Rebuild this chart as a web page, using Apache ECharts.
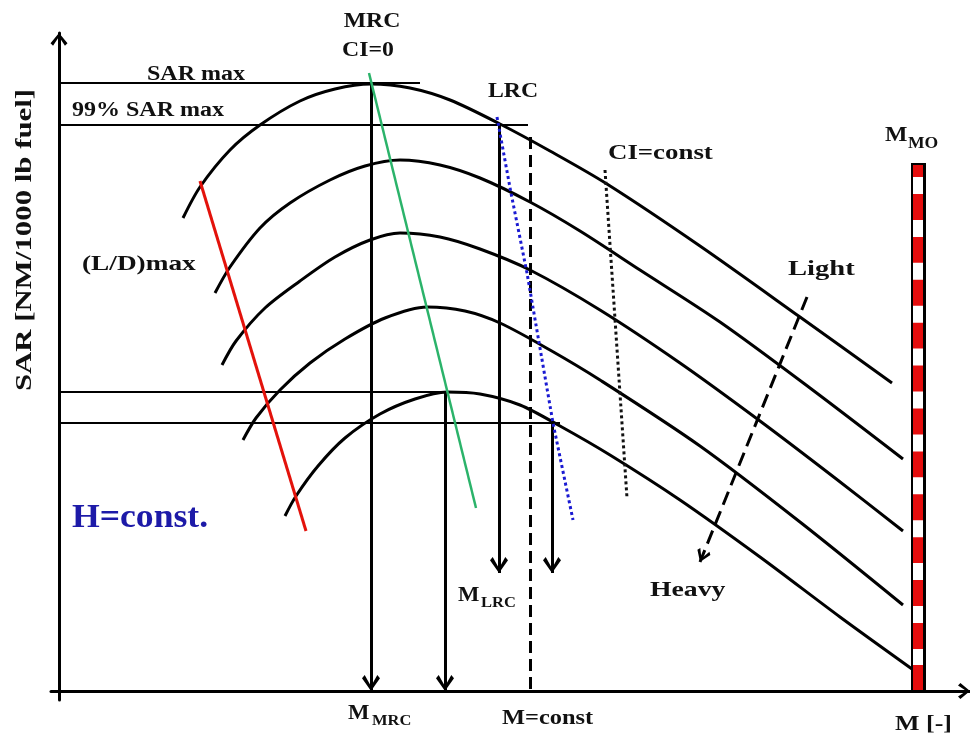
<!DOCTYPE html>
<html><head><meta charset="utf-8">
<style>html,body{margin:0;padding:0;background:#fff}#chart{width:970px;height:738px}</style>
<script src="https://cdn.jsdelivr.net/npm/echarts/dist/echarts.min.js"></script>
</head><body><div id="chart"></div>
<script>
// ---- schematic data (x = Mach position, y = SAR, arbitrary units) ----
const curveW1 = [[124,473],[141,504],[171,541],[201,566],[241,590],[276,602],[312,607],[351,603],[391,591],[441,567],[491,540],[548,507],[641,445],[741,374],[833,308]];
const curveW2 = [[156,398],[171,424],[201,463],[231,488],[271,511],[306,525],[341,531],[381,526],[421,513],[471,489],[521,460],[581,421],[661,369],[751,303],[844,232]];
const curveW3 = [[163,326],[177,350],[206,383],[241,410],[276,434],[311,451],[341,458],[381,454],[421,442],[471,421],[541,381],[621,328],[701,270],[776,213],[844,160]];
const curveW4 = [[184,251],[197,273],[221,301],[251,328],[286,352],[326,373],[368,384],[406,380],[441,368],[491,341],[541,311],[641,245],[741,169],[844,86]];
const curveW5 = [[226,175],[237,195],[259,225],[286,253],[321,277],[356,292],[388,299],[421,297],[461,286],[501,265],[551,236],[621,191],[701,134],[781,74],[853,22]];

const ldMaxLine   = [[141,510],[247,160]];
const mrcLine     = [[310,618],[417,183]];
const lrcLine     = [[438,574],[452,498],[468,418],[494,268],[514,171]];
const ciConstLine = [[546,521],[568,193]];
const mConstLine  = [[471,554],[471,0]];
const weightArrow = [[748,394],[641,129]];

const sarMaxLine      = [[0,608],[361,608]];
const sar99Line       = [[0,566],[469,566]];
const sarMaxHeavyLine = [[0,299],[406,299]];
const sar99HeavyLine  = [[0,268],[501,268]];

const mrcDrop      = [[312,608],[312,0]];
const mrcHeavyDrop = [[386,299],[386,0]];
const lrcDrop      = [[440,566],[440,118]];
const lrcHeavyDrop = [[493,268],[493,118]];

const mmoOuter   = [[859,528],[859,0]];
const mmoInner   = [[859,526],[859,1]];
const mmoStripes = [[859,514],[859,26]];

// ---- styling helpers ----
const ARROW = 'path://M10,0L10,0.01Z M10,15 L20,27 L17,30 L10,19.5 L3,30 L0,27 Z';
const FONT = '"Liberation Serif","Times New Roman",serif';

function seg(coords, color, width, type, arrowSize, z) {
  return {
    type: 'lines', coordinateSystem: 'cartesian2d', silent: true,
    polyline: coords.length > 2, z: z || 2,
    data: [{ coords: coords }],
    lineStyle: { color: color, width: width, type: type || 'solid', opacity: 1, curveness: 0, cap: 'butt' },
    symbol: arrowSize ? ['none', ARROW] : 'none',
    symbolSize: arrowSize ? [arrowSize, arrowSize] : 0
  };
}
function curve(pts) {
  return { type: 'line', data: pts, smooth: 0.3, showSymbol: false, silent: true, clip: false,
           lineStyle: { color: '#000', width: 3 }, z: 3 };
}
function txt(t, x, y, size, sx, align, color, rot) {
  return { type: 'text', x: x, y: y, scaleX: sx, rotation: rot || 0, silent: true,
    style: { text: t, font: 'bold ' + size + 'px ' + FONT, fill: color || '#111',
             textAlign: align || 'left', textVerticalAlign: 'middle' } };
}

const chart = echarts.init(document.getElementById('chart'));
chart.setOption({
  backgroundColor: '#fff',
  animation: false,
  grid: { left: 51, right: 0, top: 33, bottom: 38 },
  xAxis: { type: 'value', min: -8, max: 911,
    axisLine: { onZero: true, lineStyle: { color: '#000', width: 3 }, symbol: ['none', ARROW], symbolSize: [16, 26] },
    axisTick: { show: false }, axisLabel: { show: false }, splitLine: { show: false } },
  yAxis: { type: 'value', min: -9, max: 658,
    axisLine: { onZero: true, lineStyle: { color: '#000', width: 3 }, symbol: ['none', ARROW], symbolSize: [17, 30] },
    axisTick: { show: false }, axisLabel: { show: false }, splitLine: { show: false } },
  series: [
    seg(sarMaxLine, '#000', 2),
    seg(sar99Line, '#000', 2),
    seg(sarMaxHeavyLine, '#000', 2),
    seg(sar99HeavyLine, '#000', 2),
    seg(mrcDrop, '#000', 3, 'solid', [18, 32]),
    seg(mrcHeavyDrop, '#000', 3, 'solid', [18, 32]),
    seg(lrcDrop, '#000', 3, 'solid', [18, 32]),
    seg(lrcHeavyDrop, '#000', 3, 'solid', [18, 32]),
    seg(mConstLine, '#000', 3, [12, 6]),
    curve(curveW1), curve(curveW2), curve(curveW3), curve(curveW4), curve(curveW5),
    seg(ldMaxLine, '#e3120b', 3, 'solid', 0, 5),
    seg(mrcLine, '#2bb36a', 2.5, 'solid', 0, 5),
    seg(lrcLine, '#1a1ad2', 3, [3, 3], 0, 5),
    seg(ciConstLine, '#111', 3, [3, 3], 0, 5),
    seg(weightArrow, '#000', 3, [14, 7], [14, 26], 5),
    seg(mmoOuter, '#000', 15, 'solid', 0, 6),
    seg(mmoInner, '#e50d0d', 10, 'solid', 0, 7),
    seg(mmoStripes, '#fff', 10, [17, 25.9], 0, 8)
  ],
  graphic: [
    txt('MRC', 372, 21, 22, 1.08, 'center'),
    txt('CI=0', 368, 50, 22, 1.08, 'center'),
    txt('SAR max', 147, 75, 20, 1.2),
    txt('99% SAR max', 72, 111, 20, 1.2),
    txt('LRC', 488, 91, 22, 1.08),
    txt('CI=const', 608, 153, 22, 1.22),
    txt('M', 885, 135, 22, 1.08),
    txt('MO', 908, 144, 16, 1.1),
    txt('(L/D)max', 82, 265, 21, 1.3),
    txt('Light', 788, 269, 22, 1.3),
    txt('Heavy', 650, 590, 22, 1.26),
    txt('H=const.', 72, 518, 33, 1.08, 'left', '#1d1aa8'),
    txt('M', 458, 596, 21, 1.08),
    txt('LRC', 481, 603, 15, 1.1),
    txt('M', 348, 714, 21, 1.08),
    txt('MRC', 372, 721, 15, 1.1),
    txt('M=const', 502, 719, 20, 1.22),
    txt('M [-]', 895, 724, 22, 1.18),
    txt('SAR [NM/1000 lb fuel]', 25, 240, 23, 1.34, 'center', '#111', Math.PI / 2)
  ]
});
</script></body></html>
